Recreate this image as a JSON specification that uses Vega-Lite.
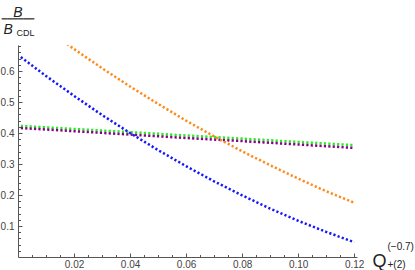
{
  "$schema": "https://vega.github.io/schema/vega-lite/v6.json",
  "autosize": "none",
  "width": 339,
  "height": 212,
  "padding": {"left": 18, "top": 45, "right": 58, "bottom": 13},
  "background": "white",
  "config": {"view": {"stroke": null}, "font": "Liberation Sans"},
  "title": {
    "text": "B",
    "subtitle": "━━━━━━",
    "font": "Liberation Sans",
    "fontSize": 14,
    "fontStyle": "italic",
    "fontWeight": "normal",
    "color": "#222222",
    "subtitleFont": "DejaVu Sans",
    "subtitleFontSize": 9,
    "subtitleColor": "#555555",
    "subtitlePadding": -4.7,
    "anchor": "start",
    "align": "center",
    "frame": "group",
    "offset": 0,
    "dy": 2
  },
  "data": {
    "values": [
      {"s": "s1", "x": 0.001, "y": 0.423},
      {"s": "s1", "x": 0.02, "y": 0.413},
      {"s": "s1", "x": 0.04, "y": 0.403},
      {"s": "s1", "x": 0.06, "y": 0.392},
      {"s": "s1", "x": 0.08, "y": 0.382},
      {"s": "s1", "x": 0.10, "y": 0.371},
      {"s": "s1", "x": 0.12, "y": 0.361},
      {"s": "s2", "x": 0.001, "y": 0.416},
      {"s": "s2", "x": 0.02, "y": 0.406},
      {"s": "s2", "x": 0.04, "y": 0.395},
      {"s": "s2", "x": 0.06, "y": 0.384},
      {"s": "s2", "x": 0.08, "y": 0.374},
      {"s": "s2", "x": 0.10, "y": 0.363},
      {"s": "s2", "x": 0.12, "y": 0.352},
      {"s": "s3", "x": 0.001, "y": 0.645},
      {"s": "s3", "x": 0.01, "y": 0.584},
      {"s": "s3", "x": 0.02, "y": 0.520},
      {"s": "s3", "x": 0.03, "y": 0.458},
      {"s": "s3", "x": 0.04, "y": 0.400},
      {"s": "s3", "x": 0.05, "y": 0.345},
      {"s": "s3", "x": 0.06, "y": 0.293},
      {"s": "s3", "x": 0.07, "y": 0.244},
      {"s": "s3", "x": 0.08, "y": 0.199},
      {"s": "s3", "x": 0.09, "y": 0.156},
      {"s": "s3", "x": 0.10, "y": 0.117},
      {"s": "s3", "x": 0.11, "y": 0.081},
      {"s": "s3", "x": 0.12, "y": 0.048},
      {"s": "s4", "x": 0.0175, "y": 0.687},
      {"s": "s4", "x": 0.02, "y": 0.671},
      {"s": "s4", "x": 0.03, "y": 0.609},
      {"s": "s4", "x": 0.04, "y": 0.550},
      {"s": "s4", "x": 0.05, "y": 0.494},
      {"s": "s4", "x": 0.06, "y": 0.440},
      {"s": "s4", "x": 0.07, "y": 0.389},
      {"s": "s4", "x": 0.08, "y": 0.341},
      {"s": "s4", "x": 0.09, "y": 0.296},
      {"s": "s4", "x": 0.10, "y": 0.253},
      {"s": "s4", "x": 0.11, "y": 0.212},
      {"s": "s4", "x": 0.12, "y": 0.175}
    ]
  },
  "layer": [
    {
      "mark": {"type": "line", "strokeWidth": 2.5, "strokeDash": [2.2, 2.2], "clip": true},
      "encoding": {
        "x": {
          "field": "x", "type": "quantitative",
          "scale": {"domain": [0, 0.121], "nice": false, "zero": false},
          "axis": {
            "orient": "bottom",
            "values": [0.005,0.01,0.015,0.02,0.025,0.03,0.035,0.04,0.045,0.05,0.055,0.06,0.065,0.07,0.075,0.08,0.085,0.09,0.095,0.1,0.105,0.11,0.115,0.12],
            "labelExpr": "round(datum.value*1000) % 20 === 0 ? format(datum.value, '.2f') : ''",
            "grid": false,
            "domainColor": "#555555",
            "tickColor": "#555555",
            "tickSize": {"condition": {"test": "round(datum.value*1000) % 20 === 0", "value": -4}, "value": -2.5},
            "labelColor": "#444444",
            "labelFontSize": 10,
            "labelPadding": 6,
            "labelFlush": false,
            "labelOverlap": false,
            "title": "Q",
            "titleFont": "Liberation Sans",
            "titleFontSize": 18,
            "titleFontWeight": "normal",
            "titleColor": "#222222",
            "titleAlign": "left",
            "titleBaseline": "alphabetic",
            "titleAngle": 0,
            "titleX": 354,
            "titleY": 9
          }
        },
        "y": {
          "field": "y", "type": "quantitative",
          "scale": {"domain": [0, 0.684], "nice": false, "zero": false},
          "axis": {
            "orient": "left",
            "values": [0.02,0.04,0.06,0.08,0.1,0.12,0.14,0.16,0.18,0.2,0.22,0.24,0.26,0.28,0.3,0.32,0.34,0.36,0.38,0.4,0.42,0.44,0.46,0.48,0.5,0.52,0.54,0.56,0.58,0.6,0.62,0.64,0.66,0.68],
            "labelExpr": "round(datum.value*100) % 10 === 0 ? format(datum.value, '.1f') : ''",
            "grid": false,
            "domainColor": "#555555",
            "tickColor": "#555555",
            "tickSize": {"condition": {"test": "round(datum.value*100) % 10 === 0", "value": -4}, "value": -2.5},
            "labelColor": "#444444",
            "labelFontSize": 10,
            "labelPadding": 8,
            "labelFlush": false,
            "labelOverlap": false,
            "title": "B",
            "titleFont": "Liberation Sans",
            "titleFontSize": 14,
            "titleFontStyle": "italic",
            "titleFontWeight": "normal",
            "titleColor": "#222222",
            "titleAlign": "left",
            "titleBaseline": "alphabetic",
            "titleAngle": 0,
            "titleX": -15,
            "titleY": -12
          }
        },
        "color": {
          "field": "s", "type": "nominal",
          "scale": {"domain": ["s1", "s2", "s3", "s4"], "range": ["#22ee22", "#880088", "#1515ff", "#ff8a1a"]},
          "legend": null
        }
      }
    },
    {
      "mark": {"type": "point", "opacity": 0},
      "encoding": {
        "x": {
          "field": "x", "type": "quantitative",
          "axis": {
            "orient": "top", "labels": false, "ticks": false, "domain": false, "grid": false,
            "title": ["(−0.7)", "+(2)"],
            "titleFont": "Liberation Sans",
            "titleFontSize": 10,
            "titleFontWeight": "normal",
            "titleColor": "#222222",
            "titleAlign": "left",
            "titleBaseline": "alphabetic",
            "titleLineHeight": 18,
            "titleAngle": 0,
            "titleX": 369,
            "titleY": 204
          }
        },
        "y": {
          "field": "y", "type": "quantitative",
          "axis": {
            "orient": "right", "labels": false, "ticks": false, "domain": false, "grid": false,
            "title": "CDL",
            "titleFont": "Liberation Sans",
            "titleFontSize": 9,
            "titleFontWeight": "normal",
            "titleColor": "#222222",
            "titleAlign": "left",
            "titleBaseline": "alphabetic",
            "titleAngle": 0,
            "titleX": -341,
            "titleY": -10
          }
        }
      }
    }
  ],
  "resolve": {"axis": {"x": "independent", "y": "independent"}}
}
